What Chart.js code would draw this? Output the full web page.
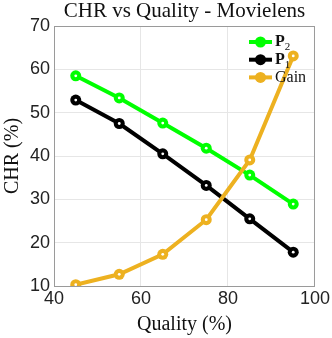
<!DOCTYPE html>
<html>
<head>
<meta charset="utf-8">
<script src="https://cdn.jsdelivr.net/npm/chart.js@4"></script>
<style>
  html, body { margin: 0; padding: 0; background: #fff; }
  #wrap { width: 332px; height: 338px; }
</style>
</head>
<body>
<div id="wrap"><canvas id="chart" width="332" height="338"></canvas></div>
<script>
// data
const quality = [45, 55, 65, 75, 85, 95];
const p2 = [58.5, 53.4, 47.6, 41.8, 35.6, 28.9];
const p1 = [52.9, 47.5, 40.5, 33.2, 25.5, 17.8];
const gain = [10.3, 12.7, 17.3, 25.3, 39.1, 63.1];
const xTicks = [40, 60, 80, 100];
const yTicks = [10, 20, 30, 40, 50, 60, 70];

const GREEN = "#00ff00";
const BLACK = "#000000";
const GOLD = "#EDB120";
const SERIF = "'Liberation Serif', 'DejaVu Serif', serif";
const SANS = "'Liberation Sans', Arial, sans-serif";

function series(label, values, color, order) {
  return {
    label: label,
    data: quality.map((q, i) => ({ x: q, y: values[i] })),
    borderColor: color,
    backgroundColor: color,
    borderWidth: 4,
    pointRadius: 5.5,
    pointBorderWidth: 0,
    pointBackgroundColor: color,
    tension: 0,
    order: order,
  };
}

// white dot in the middle of every marker, frame, titles and legend
const decor = {
  id: "decor",
  afterDatasetsDraw(chart) {
    const ctx = chart.ctx;
    ctx.save();
    chart.data.datasets.forEach((ds, i) => {
      chart.getDatasetMeta(i).data.forEach((pt) => {
        ctx.beginPath();
        ctx.arc(pt.x, pt.y, 1.4, 0, Math.PI * 2);
        ctx.fillStyle = "#ffffff";
        ctx.fill();
      });
    });
    ctx.restore();
  },
  afterDraw(chart) {
    const ctx = chart.ctx;
    const a = chart.chartArea;
    ctx.save();
    ctx.strokeStyle = "#9a9a9a";
    ctx.lineWidth = 1;
    ctx.strokeRect(a.left + 0.5, a.top + 0.5, a.right - a.left - 1, a.bottom - a.top);

    ctx.fillStyle = "#111";
    ctx.textAlign = "center";
    ctx.textBaseline = "middle";
    ctx.font = "21px " + SERIF;
    ctx.fillText("CHR vs Quality - Movielens", (a.left + a.right) / 2, 11);
    ctx.font = "20px " + SERIF;
    ctx.fillText("Quality (%)", (a.left + a.right) / 2, 325);
    ctx.save();
    ctx.translate(13, (a.top + a.bottom) / 2);
    ctx.rotate(-Math.PI / 2);
    ctx.fillText("CHR (%)", 0, 0);
    ctx.restore();

    // legend
    const items = [
      { main: "P", sub: "2", color: GREEN, bold: true },
      { main: "P", sub: "1", color: BLACK, bold: true },
      { main: "Gain", sub: "", color: GOLD, bold: false },
    ];
    items.forEach((it, i) => {
      const y = 42 + i * 17.7;
      ctx.strokeStyle = it.color;
      ctx.lineWidth = 4;
      ctx.beginPath();
      ctx.moveTo(249, y);
      ctx.lineTo(272, y);
      ctx.stroke();
      ctx.beginPath();
      ctx.arc(260.5, y, 5.5, 0, Math.PI * 2);
      ctx.fillStyle = it.color;
      ctx.fill();
      ctx.fillStyle = "#111";
      ctx.textAlign = "left";
      ctx.textBaseline = "middle";
      ctx.font = (it.bold ? "bold " : "") + "16px " + SERIF;
      ctx.fillText(it.main, 275, y);
      if (it.sub) {
        const w = ctx.measureText(it.main).width;
        ctx.font = "11px " + SERIF;
        ctx.fillText(it.sub, 275 + w, y + 5);
      }
    });
    ctx.restore();
  },
};

new Chart(document.getElementById("chart"), {
  type: "line",
  data: {
    datasets: [
      series("P2", p2, GREEN, 2),
      series("P1", p1, BLACK, 1),
      series("Gain", gain, GOLD, 0),
    ],
  },
  options: {
    responsive: false,
    animation: false,
    layout: { padding: { top: 26, right: 17, left: 0, bottom: 0 } },
    plugins: {
      legend: { display: false },
      title: { display: false },
      tooltip: { enabled: false },
    },
    scales: {
      x: {
        type: "linear",
        min: 40,
        max: 100,
        afterBuildTicks: (s) => { s.ticks = xTicks.map((v) => ({ value: v })); },
        afterFit: (s) => { s.height = 52; },
        grid: { color: "#e6e6e6", drawTicks: false },
        border: { display: false },
        ticks: { color: "#222", font: { family: SANS, size: 18 }, padding: 2, maxRotation: 0 },
      },
      y: {
        min: 10,
        max: 70,
        afterBuildTicks: (s) => { s.ticks = yTicks.map((v) => ({ value: v })); },
        afterFit: (s) => { s.width = 54; },
        grid: { color: "#e6e6e6", drawTicks: false },
        border: { display: false },
        ticks: { color: "#222", font: { family: SANS, size: 18 }, padding: 4 },
      },
    },
  },
  plugins: [decor],
});
</script>
</body>
</html>
